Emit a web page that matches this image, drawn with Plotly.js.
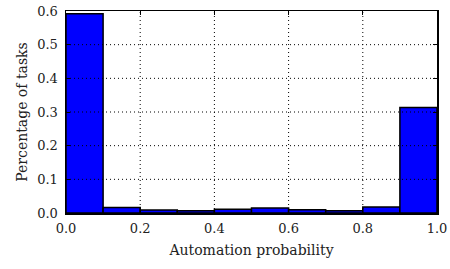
<!DOCTYPE html>
<html>
<head>
<meta charset="utf-8">
<script src="https://cdn.plot.ly/plotly-3.0.1.min.js"></script>
<style>html,body{margin:0;padding:0;background:#fff;}#chart{width:450px;height:269px;}</style>
</head>
<body>
<div id="chart"></div>
<script>
const binStarts = [0.0, 0.1, 0.2, 0.3, 0.4, 0.5, 0.6, 0.7, 0.8, 0.9];
const shares = [0.592, 0.016, 0.009, 0.007, 0.011, 0.015, 0.010, 0.007, 0.018, 0.313];
const xTicks = [0.0, 0.2, 0.4, 0.6, 0.8, 1.0];
const xTickLabels = ['0.0', '0.2', '0.4', '0.6', '0.8', '1.0'];
const yTicks = [0.0, 0.1, 0.2, 0.3, 0.4, 0.5, 0.6];
const yTickLabels = ['0.0', '0.1', '0.2', '0.3', '0.4', '0.5', '0.6'];

const tickFont = {family: 'DejaVu Serif, Liberation Serif, serif', size: 13, color: '#222'};
const titleFont = {family: 'DejaVu Serif, Liberation Serif, serif', size: 14, color: '#222'};
const grid = {color: '#000', width: 1, dash: '1px,3px'};
const shapes = [];
xTicks.slice(1, -1).forEach(v => shapes.push({type: 'line', xref: 'x', yref: 'paper', x0: v, x1: v, y0: 0, y1: 1, line: grid, layer: 'above'}));
yTicks.slice(1, -1).forEach(v => shapes.push({type: 'line', xref: 'paper', yref: 'y', x0: 0, x1: 1, y0: v, y1: v, line: grid, layer: 'above'}));

const trace = {
  type: 'bar', x: binStarts, y: shares, width: 0.1, offset: 0,
  marker: {color: '#0000ff', line: {color: '#000', width: 1.5}}
};
const axisCommon = {
  showgrid: false, zeroline: false, showline: true, mirror: 'ticks', linecolor: '#000', linewidth: 1.5,
  ticks: 'inside', ticklen: 4, tickcolor: '#000', tickfont: tickFont, layer: 'above traces'
};
const layout = {
  width: 450, height: 269,
  margin: {l: 66, r: 13, t: 11, b: 56},
  paper_bgcolor: '#fff', plot_bgcolor: '#fff',
  font: tickFont, showlegend: false, bargap: 0,
  xaxis: Object.assign({}, axisCommon, {range: [0, 1], tickvals: xTicks, ticktext: xTickLabels,
    ticklabelstandoff: 3,
    title: {text: 'Automation probability', font: titleFont, standoff: 10}}),
  yaxis: Object.assign({}, axisCommon, {range: [0, 0.6], tickvals: yTicks, ticktext: yTickLabels,
    ticklabelstandoff: 4,
    title: {text: 'Percentage of tasks', font: titleFont, standoff: 6}}),
  shapes: shapes
};
Plotly.newPlot('chart', [trace], layout, {staticPlot: true, displayModeBar: false});
</script>
</body>
</html>
